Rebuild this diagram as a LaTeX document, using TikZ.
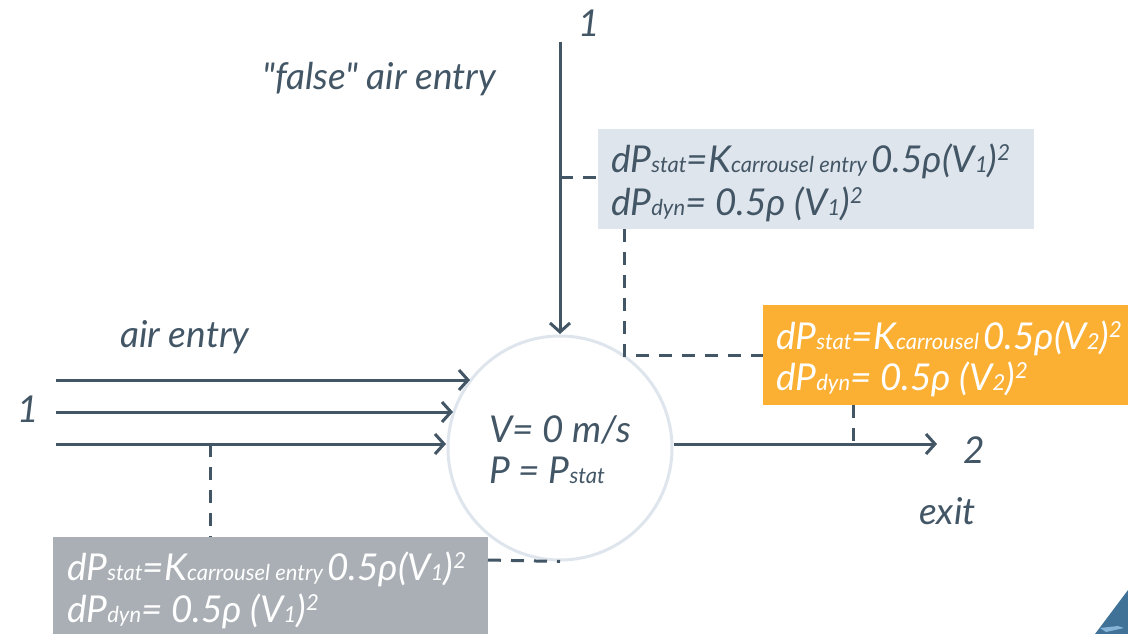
\documentclass[tikz,border=0pt]{standalone}
\usepackage{fontspec}
\setmainfont{Lato}[Ligatures=TeXOff]
\usetikzlibrary{arrows.meta}
\definecolor{ink}{HTML}{435666}
\definecolor{pale}{HTML}{DFE5EC}
\definecolor{amber}{HTML}{FBB034}
\definecolor{slate}{HTML}{A9AFB4}
\definecolor{corner}{HTML}{3F7296}
\definecolor{streak}{HTML}{86B4D8}
\newcommand{\sbt}[1]{{\fontsize{22}{22}\selectfont #1}}
\newcommand{\spt}[1]{\raisebox{12pt}{\fontsize{22}{22}\selectfont #1}}
\newcommand{\statline}[2]{dP\sbt{stat}=K\sbt{#1}\hspace{4pt}0.5ρ(V\sbt{#2})\spt{2}}
\newcommand{\dynline}[1]{dP\sbt{dyn}= 0.5ρ (V\sbt{#1})\spt{2}}
\tikzset{
  txt/.style={anchor=base west,inner sep=0pt,text=ink,font=\fontsize{37}{37}\selectfont\itshape},
  wtxt/.style={txt,text=white},
  panel/.style={anchor=north west,inner sep=0pt,draw=none},
  flow/.style={draw=ink,line width=3pt,-{Straight Barb[length=9pt,width=20pt,line width=3pt]}},
  link/.style={draw=ink,line width=3pt,dash pattern=on 13pt off 10pt}
}
\begin{document}
\begin{tikzpicture}[x=1pt,y=-1pt]
\useasboundingbox (0,0) rectangle (1128,634);
\fill[white] (0,0) rectangle (1128,634);
\fill[corner] (1128,590) -- (1095,634) -- (1128,634) -- cycle;
\fill[streak] (1100,628) -- (1118,626) -- (1124,628) -- (1106,632) -- cycle;
% panels
\node[panel,fill=pale,minimum width=436pt,minimum height=100pt] (pa) at (598,129) {};
\node[panel,fill=amber,minimum width=365pt,minimum height=100pt] (pb) at (763,305) {};
\node[panel,fill=slate,minimum width=435pt,minimum height=97pt] (pc) at (53,537) {};
% hub
\node[circle,draw=pale,line width=3pt,minimum size=224pt,inner sep=0pt] (hub) at (560,448) {};
% free ends
\coordinate (topstart) at (560,42);
\coordinate (tapa) at (560,177);
\coordinate (e1) at (56,380);
\coordinate (e1b) at (470,380);
\coordinate (e2) at (56,412);
\coordinate (e2b) at (453,412);
\coordinate (e3) at (56,444);
\coordinate (e3b) at (446,444);
\coordinate (x1) at (674,444);
\coordinate (x2) at (937,444);
\coordinate (tape) at (210,444);
\coordinate (tapx) at (853,444);
\coordinate (tapb) at (624,229);
\coordinate (tapbb) at (763,355);
\coordinate (tapc) at (488,560);
% connectors
\draw[flow] (topstart) -- (560,334);
\draw[flow] (e1) -- (e1b);
\draw[flow] (e2) -- (e2b);
\draw[flow] (e3) -- (e3b);
\draw[flow] (x1) -- (x2);
\draw[link] (tapa) -- (pa.west |- tapa);
\draw[link] (tapb) |- (tapbb);
\draw[link] (pb.south -| tapx) -- (tapx);
\draw[link] (tape) -- (pc.north -| tape);
\draw[link] (tapc) -- (hub.south);
% labels
\node[txt] (n1) at (578,37) {1};
\node[txt] (false) at (262,89) {"false" air entry};
\node[txt] (air) at (120,347) {air entry};
\node[txt] (n1b) at (17,422) {1};
\node[txt] (n2) at (963,463) {2};
\node[txt] (exit) at (919,524) {exit};
\node[txt] (v) at (489,442) {V= 0 m/s};
\node[txt] (p) at (489,483) {P = P\sbt{stat}};
\node[txt] (a1) at (611,172) {\statline{carrousel entry}{1}};
\node[txt] (a2) at (611,215) {\dynline{1}};
\node[wtxt] (b1) at (776,349) {\statline{carrousel}{2}};
\node[wtxt] (b2) at (776,390) {\dynline{2}};
\node[wtxt] (c1) at (67,580) {\statline{carrousel entry}{1}};
\node[wtxt] (c2) at (67,622) {\dynline{1}};
\end{tikzpicture}
\end{document}
